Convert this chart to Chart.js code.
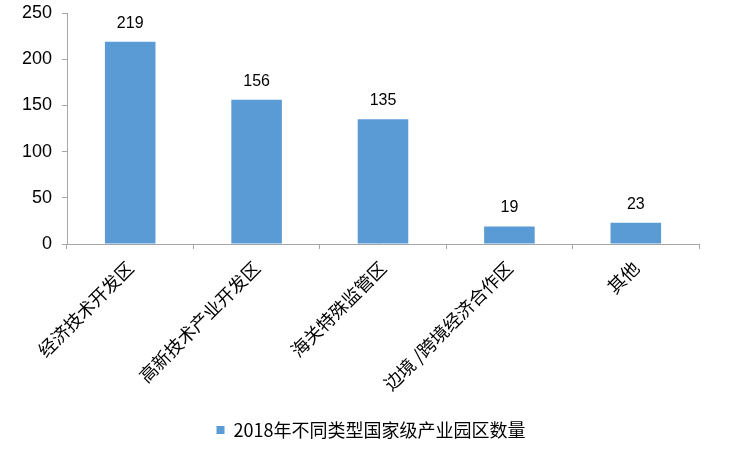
<!DOCTYPE html>
<html>
<head>
<meta charset="utf-8">
<script src="https://cdn.jsdelivr.net/npm/chart.js@4"></script>
<style>
html,body{margin:0;padding:0;background:#fff;}
#wrap{width:742px;height:449px;position:relative;}
</style>
</head>
<body>
<div id="wrap"><canvas id="c" width="742" height="449"></canvas></div>
<script>
const categories = ["经济技术开发区", "高新技术产业开发区", "海关特殊监管区", "边境 /跨境经济合作区", "其他"];
const seriesName = "2018年不同类型国家级产业园区数量";
const values = [219, 156, 135, 19, 23];
const yTicks = [0, 50, 100, 150, 200, 250];

const valueLabels = {
  id: 'valueLabels',
  afterDatasetsDraw(chart) {
    const ctx = chart.ctx;
    const meta = chart.getDatasetMeta(0);
    ctx.save();
    ctx.font = '16px "Liberation Sans", Arial, sans-serif';
    ctx.fillStyle = '#000';
    ctx.textAlign = 'center';
    ctx.textBaseline = 'alphabetic';
    meta.data.forEach((bar, i) => {
      ctx.fillText(String(chart.data.datasets[0].data[i]), bar.x, bar.y - 14);
    });
    ctx.restore();
  }
};

new Chart(document.getElementById('c'), {
  type: 'bar',
  data: {
    labels: categories,
    datasets: [{
      label: seriesName,
      data: values,
      backgroundColor: '#5B9BD5',
      borderWidth: 0,
      categoryPercentage: 1,
      barPercentage: 0.4
    }]
  },
  options: {
    responsive: false,
    animation: false,
    devicePixelRatio: 1,
    layout: { padding: { left: 0, right: 0, top: 0, bottom: 0 } },
    plugins: {
      legend: {
        position: 'bottom',
        labels: {
          boxWidth: 8,
          boxHeight: 8,
          padding: 20,
          color: '#000',
          font: { size: 18, family: '"Noto Sans CJK SC", "Liberation Sans", sans-serif' }
        }
      },
      tooltip: { enabled: false }
    },
    scales: {
      x: {
        afterFit(axis) { axis.height = 157; },
        grid: { drawOnChartArea: false, drawTicks: true, tickLength: 5, color: '#a6a6a6', offset: true },
        border: { color: '#a6a6a6', width: 1 },
        ticks: {
          color: '#000',
          minRotation: 45,
          maxRotation: 45,
          autoSkip: false,
          padding: 8,
          font: { size: 18, family: '"Noto Sans CJK SC", sans-serif' }
        }
      },
      y: {
        min: 0,
        max: 250,
        afterFit(axis) { axis.width = 67; axis.paddingTop = 13; axis.paddingBottom = 0; },
        afterBuildTicks(axis) { axis.ticks = yTicks.map(v => ({ value: v })); },
        grid: { drawOnChartArea: false, drawTicks: true, tickLength: 5, color: '#a6a6a6' },
        border: { color: '#a6a6a6', width: 1 },
        ticks: {
          color: '#000',
          padding: 10,
          font: { size: 18, family: '"Liberation Sans", Arial, sans-serif' }
        }
      },
      spacer: {
        type: 'linear',
        position: 'right',
        display: true,
        afterFit(axis) { axis.width = 43; axis.paddingTop = 0; axis.paddingBottom = 0; },
        grid: { display: false, drawTicks: false },
        border: { display: false },
        ticks: { display: false }
      }
    }
  },
  plugins: [valueLabels]
});
</script>
</body>
</html>
